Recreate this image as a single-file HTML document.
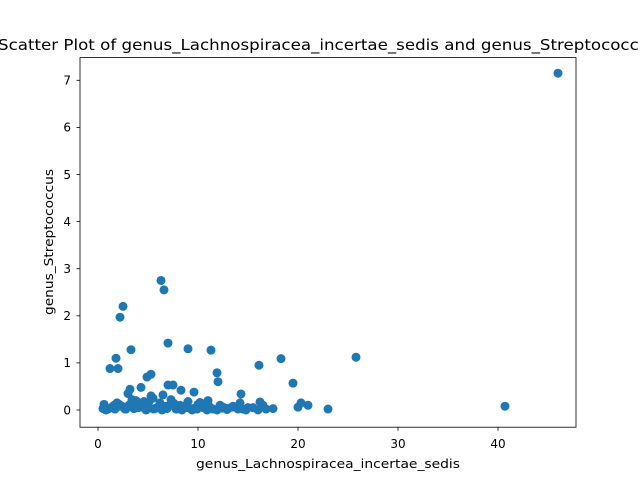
<!DOCTYPE html>
<html><head><meta charset="utf-8"><style>
body{margin:0;background:#fff;}
svg{display:block;font-family:"DejaVu Sans","Liberation Sans",sans-serif;}
</style></head><body>
<svg id="chart" width="640" height="480">
<rect width="640" height="480" fill="#fff"/>
<text x="328" y="50" font-size="15.5" text-anchor="middle" textLength="660" lengthAdjust="spacingAndGlyphs">Scatter Plot of genus_Lachnospiracea_incertae_sedis and genus_Streptococcus</text>
<g id="pts"></g>
<rect x="80" y="57.6" width="496" height="369.6" fill="none" stroke="#000" stroke-width="0.8"/>
<g id="axes"></g>
<text x="328" y="468" font-size="12" text-anchor="middle" textLength="264" lengthAdjust="spacingAndGlyphs">genus_Lachnospiracea_incertae_sedis</text>
<text transform="translate(53,242) rotate(-90)" font-size="12" text-anchor="middle" textLength="146" lengthAdjust="spacingAndGlyphs">genus_Streptococcus</text>
</svg>
<script>
const xVals=[46,6.3,6.6,2.5,2.2,7,3.3,9,11.3,1.8,25.8,18.3,16.1,1.2,2,11.9,5.3,4.9,12,19.5,7,7.5,3.2,4.3,8.3,9.6,14.3,3,6.5,5.3,40.7,23,21,20.3,20,17.5,16.5,16.2,15,14.5,13.5,13,12.5,12.2,11.5,11,10.5,10,9.5,9,8.7,8.2,7.8,7.3,6.8,6.2,5.8,5.5,5,4.6,4.2,3.8,3.5,2.8,2.4,1.9,1.5,1,0.6,0.5,0.8,1.3,1.7,2.2,2.7,3.1,3.6,4,4.4,4.8,5.2,5.6,6,6.4,6.9,7.4,7.9,8.4,8.9,9.4,9.9,10.4,10.9,11.4,11.9,12.4,12.9,13.4,14,14.8,15.5,16,16.8,3.4,4.5,5.1,7.6,8.8,10.2,11.1,12.7,14.2,2.1,6.1,1.6];
const yVals=[7.15,2.75,2.55,2.2,1.97,1.42,1.28,1.3,1.27,1.1,1.12,1.09,0.95,0.88,0.88,0.79,0.76,0.7,0.6,0.57,0.53,0.53,0.44,0.48,0.42,0.38,0.34,0.35,0.32,0.3,0.08,0.02,0.1,0.15,0.06,0.03,0.1,0.17,0.05,0.02,0.08,0.03,0.06,0.1,0.02,0.2,0.05,0.12,0.03,0.18,0.06,0.1,0.02,0.22,0.08,0.15,0.04,0.25,0.1,0.18,0.06,0.2,0.12,0.02,0.08,0.15,0.05,0.02,0.12,0.03,0,0.05,0.02,0.08,0.02,0.1,0.03,0.05,0.15,0,0.04,0.02,0.06,0,0.03,0.1,0.02,0,0.05,0,0.02,0.08,0,0.03,0,0.04,0.01,0.06,0.02,0,0.05,0,0.02,0.22,0.12,0.18,0.14,0.1,0.16,0.08,0.04,0.15,0.12,0.05,0.1];
const xTicks=[0,10,20,30,40];
const yTicks=[0,1,2,3,4,5,6,7];
const sx=v=>98+v*10, sy=v=>410-v*47.1;
const NS="http://www.w3.org/2000/svg";
const pts=document.getElementById('pts');
xVals.forEach((x,i)=>{const c=document.createElementNS(NS,'circle');
c.setAttribute('cx',sx(x));c.setAttribute('cy',sy(yVals[i]));c.setAttribute('r',4.5);c.setAttribute('fill','#1f77b4');


pts.appendChild(c);});
const ax=document.getElementById('axes');
xTicks.forEach(t=>{const l=document.createElementNS(NS,'line');l.setAttribute('x1',sx(t));l.setAttribute('x2',sx(t));l.setAttribute('y1',427.2);l.setAttribute('y2',430.7);l.setAttribute('stroke','#000');l.setAttribute('stroke-width',0.8);


ax.appendChild(l);
const tx=document.createElementNS(NS,'text');tx.setAttribute('x',sx(t));tx.setAttribute('y',448);tx.setAttribute('font-size',12);tx.setAttribute('text-anchor','middle');tx.textContent=t;


ax.appendChild(tx);});
yTicks.forEach(t=>{const l=document.createElementNS(NS,'line');l.setAttribute('x1',76.5);l.setAttribute('x2',80);l.setAttribute('y1',sy(t));l.setAttribute('y2',sy(t));l.setAttribute('stroke','#000');l.setAttribute('stroke-width',0.8);


ax.appendChild(l);
const tx=document.createElementNS(NS,'text');tx.setAttribute('x',71);tx.setAttribute('y',sy(t)+4.3);tx.setAttribute('font-size',12);tx.setAttribute('text-anchor','end');tx.textContent=t;


ax.appendChild(tx);});
</script>
</body></html>
